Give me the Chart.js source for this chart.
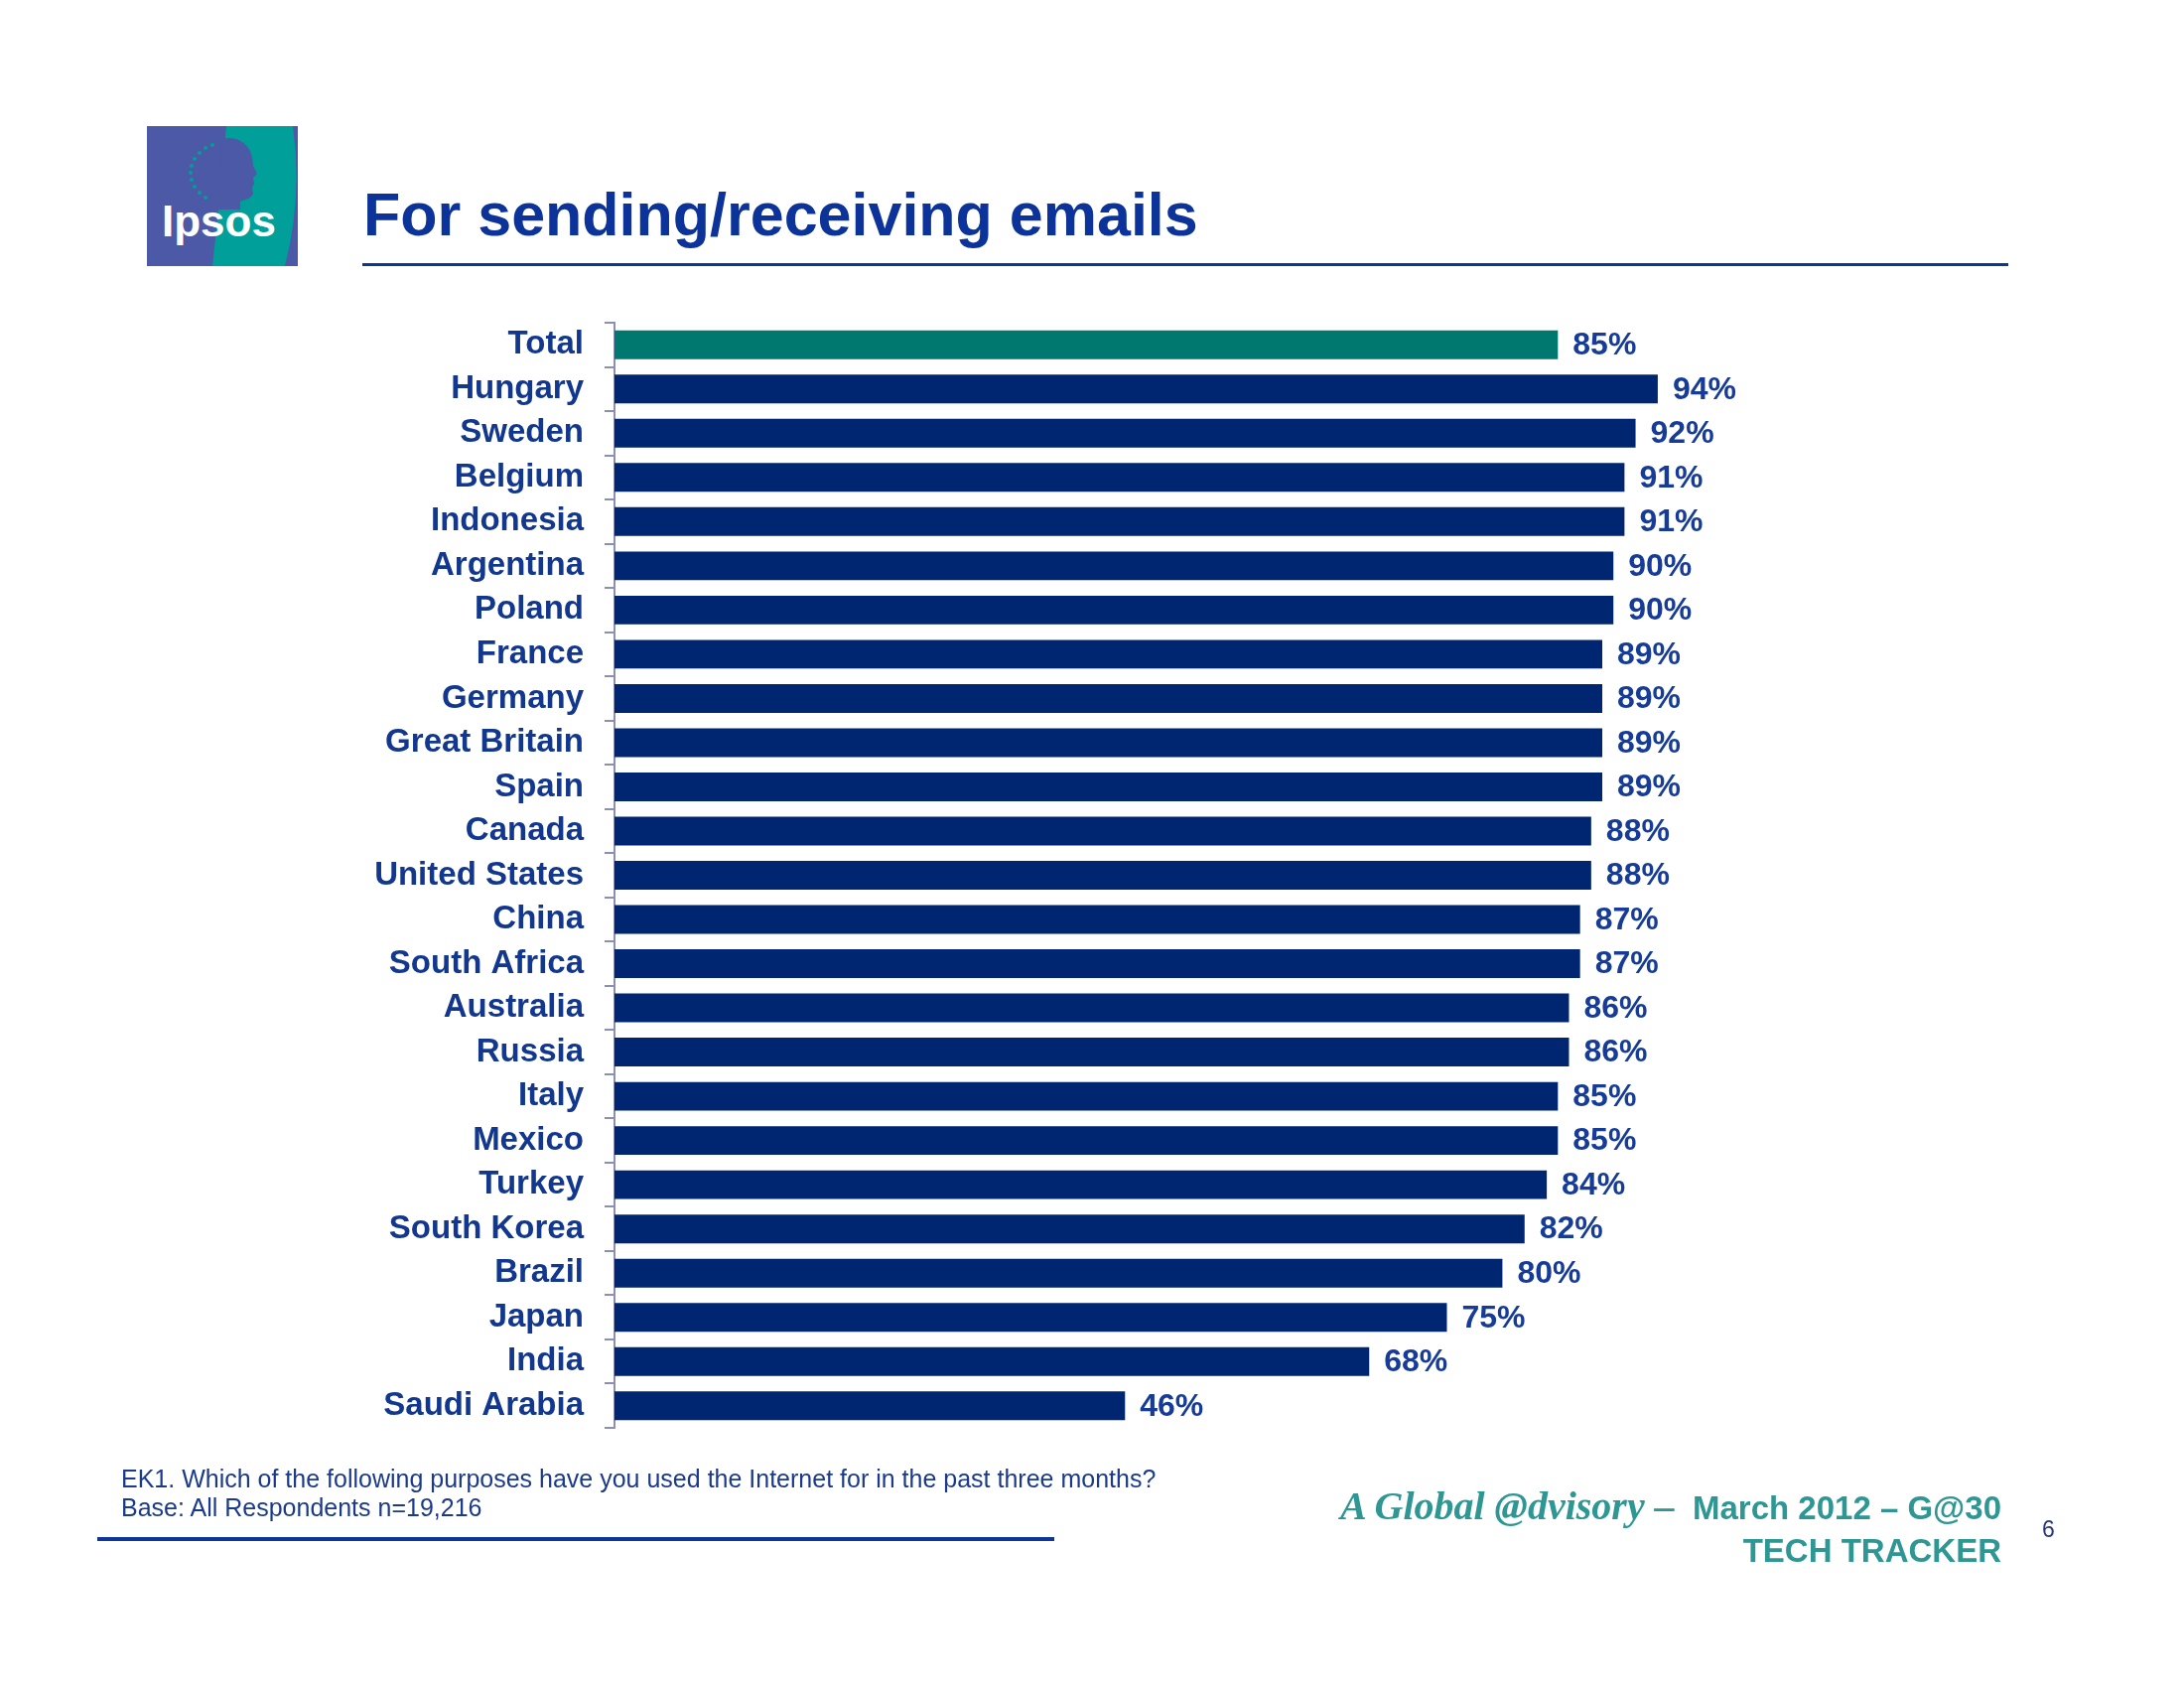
<!DOCTYPE html>
<html>
<head>
<meta charset="utf-8">
<title>For sending/receiving emails</title>
<script src="https://cdn.jsdelivr.net/npm/chart.js@4.4.0/dist/chart.umd.min.js"></script>
<style>
  body { margin: 0; background: #fff; }
  #page { position: relative; width: 2200px; height: 1700px; overflow: hidden; font-family: "Liberation Sans", Arial, sans-serif; }
  #page canvas { position: absolute; left: 0; top: 0; }
  .abs { position: absolute; white-space: nowrap; }
  #title { left: 366px; top: 186px; font-size: 61px; line-height: 61px; font-weight: bold; color: #0c3399; }
  #titleRule { left: 365px; top: 265px; width: 1658px; height: 3px; background: #0d3797; }
  #note { left: 122px; top: 1475px; font-size: 25px; line-height: 29px; color: #1b3a8c; }
  #noteRule { left: 98px; top: 1548px; width: 964px; height: 4px; background: #0d3797; }
  #foot1 { right: 184px; top: 1494px; line-height: 46px; color: #2e9794; }
  #foot1 .serif { font-family: "Liberation Serif", "DejaVu Serif", serif; font-style: italic; font-weight: bold; font-size: 40px; }
  #foot1 .sans, #foot2 { font-weight: bold; font-size: 33px; }
  #foot2 { right: 184px; top: 1544px; line-height: 36px; color: #2e9794; }
  #pageNo { left: 2057px; top: 1527px; font-size: 23px; line-height: 26px; color: #2b3580; }
  #logo { left: 148px; top: 127px; }
</style>
</head>
<body>
<div id="page">
  <canvas id="chart" width="2200" height="1700"></canvas>

  <svg id="logo" class="abs" width="152" height="141" viewBox="0 0 152 141">
    <rect x="0" y="0" width="152" height="141" fill="#4b59a6"/>
    <path d="M80,0 L147,0 Q157,70 139,141 L66,141 Q74,70 80,0 Z" fill="#009f9a"/>
    <!-- head profile -->
    <path d="M74,13 C90,9 103,17 106,31 L107,40 L111,48 L107,52 L108,58 L106,62 L107,68 C104,74 97,74 94,76 L94,84 L68,84 Q74,50 74,13 Z" fill="#4b59a6"/>
    <g fill="#009f9a">
      <circle cx="66" cy="19" r="2"/><circle cx="59" cy="22" r="2"/><circle cx="53" cy="27" r="2"/>
      <circle cx="48" cy="33" r="2"/><circle cx="45" cy="40" r="2"/><circle cx="44" cy="47" r="2"/>
      <circle cx="45" cy="54" r="2"/><circle cx="48" cy="61" r="2"/><circle cx="53" cy="67" r="2"/>
      <circle cx="59" cy="72" r="2"/>
    </g>
    <text x="15" y="111" font-family="Liberation Sans, Arial, sans-serif" font-weight="bold" font-size="44" fill="#ffffff" letter-spacing="0">Ipsos</text>
  </svg>

  <div id="title" class="abs">For sending/receiving emails</div>
  <div id="titleRule" class="abs"></div>

  <div id="note" class="abs">EK1. Which of the following purposes have you used the Internet for in the past three months?<br>Base: All Respondents n=19,216</div>
  <div id="noteRule" class="abs"></div>

  <div id="foot1" class="abs"><span class="serif">A Global @dvisory –</span><span class="sans">&nbsp;&nbsp;March 2012 – G@30</span></div>
  <div id="foot2" class="abs">TECH TRACKER</div>
  <div id="pageNo" class="abs">6</div>
</div>

<script>
const categories = ['Total', 'Hungary', 'Sweden', 'Belgium', 'Indonesia', 'Argentina', 'Poland',
    'France', 'Germany', 'Great Britain', 'Spain', 'Canada', 'United States', 'China',
    'South Africa', 'Australia', 'Russia', 'Italy', 'Mexico', 'Turkey', 'South Korea',
    'Brazil', 'Japan', 'India', 'Saudi Arabia'];

const values = [85, 94, 92, 91, 91, 90, 90, 89, 89, 89, 89, 88, 88, 87, 87, 86, 86, 85, 85, 84, 82, 80, 75, 68, 46];

const axisRange = [0, 100];

const totalColor = '#00786f';
const countryColor = '#002672';
const labelColor = '#12378f';
const axisColor = '#8a8fb3';
const fontFamily = '"Liberation Sans", Arial, sans-serif';

// percentage label at the end of each bar
const valueLabels = {
    id: 'valueLabels',
    afterDatasetsDraw(chart) {
        const ctx = chart.ctx;
        const meta = chart.getDatasetMeta(0);
        ctx.save();
        ctx.font = 'bold 32px ' + fontFamily;
        ctx.fillStyle = '#163c98';
        ctx.textAlign = 'left';
        ctx.textBaseline = 'middle';
        meta.data.forEach((bar, i) => {
            ctx.fillText(values[i] + '%', bar.x + 15, bar.y + 1);
        });
        ctx.restore();
    }
};

new Chart(document.getElementById('chart'), {
    type: 'bar',
    data: {
        labels: categories,
        datasets: [{
            data: values,
            backgroundColor: categories.map((c, i) => i === 0 ? totalColor : countryColor),
            borderWidth: 0,
            barPercentage: 0.65,
            categoryPercentage: 1
        }]
    },
    options: {
        indexAxis: 'y',
        responsive: false,
        animation: false,
        layout: {
            padding: { left: 0, top: 325, right: 463, bottom: 262 }
        },
        scales: {
            x: {
                display: false,
                min: axisRange[0],
                max: axisRange[1]
            },
            y: {
                grid: {
                    display: true,
                    offset: true,
                    drawOnChartArea: false,
                    drawTicks: true,
                    tickLength: 10,
                    color: axisColor,
                    lineWidth: 2
                },
                border: { display: true, color: axisColor, width: 2 },
                ticks: {
                    autoSkip: false,
                    color: labelColor,
                    padding: 21,
                    font: { family: fontFamily, size: 33, weight: 'bold' }
                },
                afterFit(scale) {
                    scale.width = 619;
                }
            }
        },
        plugins: {
            legend: { display: false },
            tooltip: { enabled: false }
        }
    },
    plugins: [valueLabels]
});
</script>
</body>
</html>
